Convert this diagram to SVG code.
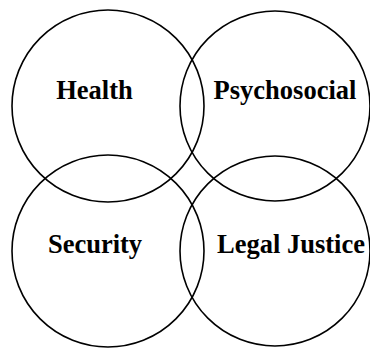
<svg xmlns="http://www.w3.org/2000/svg" width="370" height="348" viewBox="0 0 370 348">
  <style>
    .ring { fill: none; stroke: #000; stroke-width: 1.6; }
    .label { font-family: "Liberation Serif", "Times New Roman", serif; font-weight: bold; font-size: 26.5px; fill: #000; text-anchor: middle; }
  </style>
  <rect width="370" height="348" fill="#fff"/>
  <g id="health">
    <circle class="ring" cx="108" cy="106" r="96"/>
    <text class="label" x="94.5" y="99">Health</text>
  </g>
  <g id="psychosocial">
    <circle class="ring" cx="275" cy="106" r="95"/>
    <text class="label" x="285" y="99">Psychosocial</text>
  </g>
  <g id="security">
    <circle class="ring" cx="108" cy="251" r="96"/>
    <text class="label" x="95" y="252.5">Security</text>
  </g>
  <g id="legal-justice">
    <circle class="ring" cx="275" cy="251" r="95"/>
    <text class="label" x="291" y="252.5">Legal Justice</text>
  </g>
  <g id="connectors"/>
</svg>
